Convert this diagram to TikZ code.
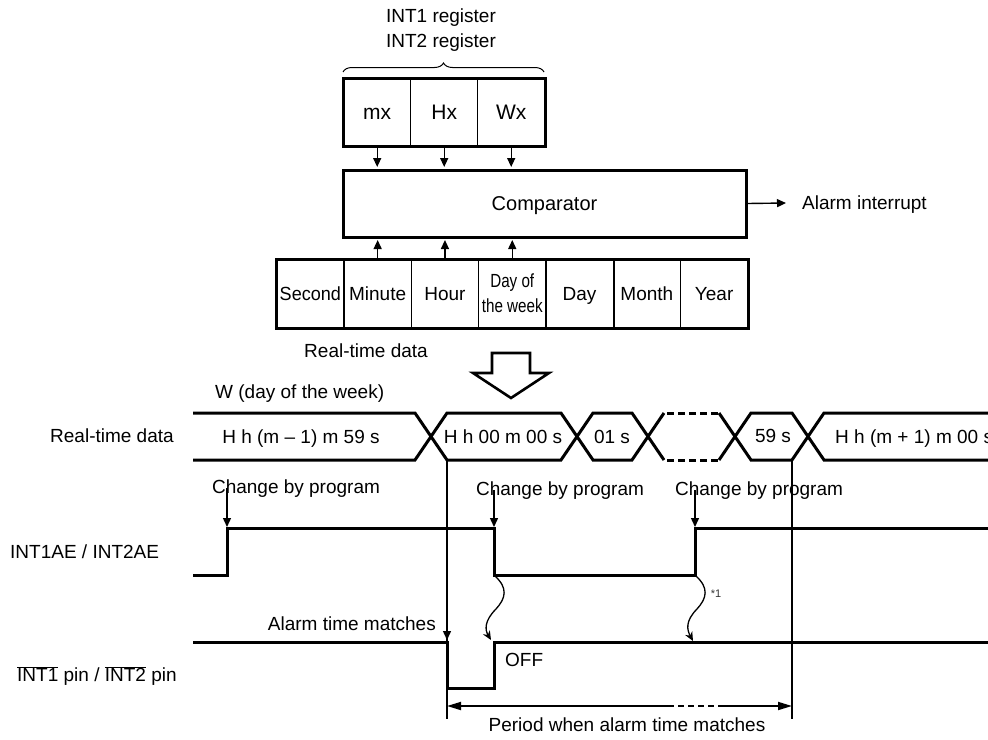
\documentclass[tikz,border=0pt]{standalone}
\usepackage{fontspec}
\setmainfont{Liberation Sans}
\usetikzlibrary{arrows.meta,decorations.pathreplacing,calc}
\begin{document}
\begin{tikzpicture}[x=1pt,y=-1pt,
  font=\fontsize{19}{22}\selectfont,
  thickln/.style={line width=3pt},
  capc/.style={text height=13.7pt, text depth=0pt},
  cell/.style={draw, line width=1.4pt, minimum width=67pt, minimum height=67pt, inner sep=0pt, anchor=north west},
  dcell/.style={cell, minimum width=67.3pt, minimum height=68pt},
  arr/.style={line width=1.4pt, -{Triangle[length=9pt,width=8pt]}},
  lbl/.style={inner sep=0pt, capc},
  sig/.style={line width=3pt},
  wavy/.style={line width=1.3pt, -{Stealth[length=9pt,width=8pt]}},
]
\useasboundingbox (0,0) rectangle (988,739);

% ---------- register block ----------
\node[lbl] (reg1) at (441,16) {INT1 register};
\node[lbl] (reg2) at (441,41) {INT2 register};
\node[cell, font=\fontsize{21}{24}\selectfont, text height=15pt, text depth=0pt] (mx) at (343,78) {mx};
\node[cell, font=\fontsize{21}{24}\selectfont, text height=15pt, text depth=0pt] (hx) at (410,78) {Hx};
\node[cell, font=\fontsize{21}{24}\selectfont, text height=15pt, text depth=0pt] (wx) at (477,78) {Wx};
\draw[thickln] (mx.north west) rectangle (wx.south east);
\draw[line width=1pt, decorate, decoration={brace, amplitude=9pt}] (343,72) -- (544,72);

% ---------- comparator ----------
\node[draw, line width=3pt, minimum width=403pt, minimum height=67pt, inner sep=0pt, font=\fontsize{20}{22}\selectfont, text height=14.4pt, text depth=0pt] (comp) at (544.5,203.5) {Comparator};
\draw[arr, shorten >=1.5pt] (mx.south) -- (mx.south |- comp.north);
\draw[arr, shorten >=1.5pt] (hx.south) -- (hx.south |- comp.north);
\draw[arr, shorten >=1.5pt] (wx.south) -- (wx.south |- comp.north);
\node[lbl, anchor=west] (alarm) at (802,203) {Alarm interrupt};
\draw[arr] (comp.east) -- ([xshift=-16pt]alarm.west);

% ---------- real-time data block ----------
\node[dcell, capc] (sec) at (276,259) {\scalebox{0.95}[1]{Second}};
\node[dcell, capc] (min) at (343.3,259) {Minute};
\node[dcell, capc] (hour) at (410.6,259) {Hour};
\node[dcell, align=center, font=\fontsize{19}{25}\selectfont] (dow) at (477.9,259) {\scalebox{0.8}[1]{Day of}\\\scalebox{0.8}[1]{the week}};
\node[dcell, capc] (day) at (545.2,259) {Day};
\node[dcell, capc] (month) at (612.5,259) {Month};
\node[dcell, capc] (year) at (679.8,259) {Year};
\draw[thickln] (sec.north west) rectangle (year.south east);
\draw[line width=2.6pt] (day.north east) -- (day.south east);
\draw[arr, shorten >=1.5pt] (min.north) -- (min.north |- comp.south);
\draw[arr, shorten >=1.5pt] (hour.north) -- (hour.north |- comp.south);
\draw[arr, shorten >=1.5pt] (dow.north) -- (dow.north |- comp.south);
\node[lbl] (rtd) at (366,351) {Real-time data};

% hollow arrow
\draw[line width=2.6pt, line join=miter] (492,353) -- (530,353) -- (530,373) -- (549,373) -- (511,398) -- (473,373) -- (492,373) -- cycle;

% ---------- timing: bus ----------
\node[lbl, anchor=west] (wlbl) at (215,392) {W (day of the week)};
\node[lbl, anchor=west] (rtdl) at (50,436) {Real-time data};
\draw[sig] (193,413) -- (415,413) -- (447,460) -- (561,460) -- (593,413) -- (632,413) -- (664,460);
\draw[sig] (193,460) -- (415,460) -- (447,413) -- (561,413) -- (593,460) -- (632,460) -- (664,413);
\draw[sig, dash pattern=on 7pt off 4pt] (667,413) -- (719,413);
\draw[sig, dash pattern=on 7pt off 4pt] (667,460) -- (719,460);
\draw[sig] (719,413) -- (751,460) -- (792,460) -- (824,413) -- (995,413);
\draw[sig] (719,460) -- (751,413) -- (792,413) -- (824,460) -- (995,460);
\node[lbl] (b1) at (301,437) {H h (m -- 1) m 59 s};
\node[lbl] (b2) at (503,437) {H h 00 m 00 s};
\node[lbl] (b3) at (612,437) {01 s};
\node[lbl] (b4) at (773,436) {59 s};
\node[lbl, anchor=west] (b5) at (835,437) {H h (m + 1) m 00 s};

% ---------- reference verticals ----------
\coordinate (v1t) at (447,460);
\coordinate (v1b) at (447,719);
\coordinate (v2t) at (792,460);
\coordinate (v2b) at (792,719);
\draw[line width=1.8pt] (v1t) -- (v1b);
\draw[line width=1.8pt] (v2t) -- (v2b);

% ---------- INT1AE / INT2AE ----------
\node[lbl, anchor=west] (aelbl) at (10,552) {INT1AE / INT2AE};
\draw[sig] (193,575) -- (227,575) -- (227,528) -- (494,528) -- (494,575) -- (695,575) -- (695,528) -- (995,528);
\node[lbl] (cp1) at (296,487) {Change by program};
\node[lbl] (cp2) at (560,489) {Change by program};
\node[lbl] (cp3) at (759,489) {Change by program};
\coordinate (e1) at (227,527);
\coordinate (e2) at (494,527);
\coordinate (e3) at (695,527);
\draw[arr] (cp1.south -| e1) ++(0,-6) -- (e1);
\draw[arr] (cp2.south -| e2) ++(0,-6) -- (e2);
\draw[arr] (cp3.south -| e3) ++(0,-6) -- (e3);

% ---------- INT pin ----------
\node[lbl, anchor=west] (pinlbl) at (17,675) {$\overline{\hbox{INT1}}$ pin / $\overline{\hbox{INT2}}$ pin};
\draw[sig] (193,642) -- (447,642) -- (447,688) -- (494,688) -- (494,642) -- (995,642);
\node[lbl, anchor=east] (atm) at (436,624) {Alarm time matches};
\coordinate (atmtip) at (447,640);
\draw[arr] (447,612) -- (atmtip);
\node[lbl, anchor=west] (off) at (505,660) {OFF};

% wavy arrows
\coordinate (w1s) at (495,576);
\coordinate (w1e) at (491,640);
\coordinate (w2s) at (696,576);
\coordinate (w2e) at (693,641);
\draw[wavy] (w1s) .. controls (508,588) and (506,598) .. (496,609) .. controls (484,621) and (485,630) .. (w1e);
\draw[wavy] (w2s) .. controls (709,588) and (707,598) .. (697,609) .. controls (685,621) and (687,630) .. (w2e);
\node[inner sep=0pt, text=black!80] (star) at (716,594) {\fontsize{11}{12}\selectfont *1};

% ---------- period ----------
\coordinate (p1) at (447,706);
\coordinate (pd1) at (668,706);
\coordinate (pd2) at (718,706);
\coordinate (p2) at (792,706);
\draw[line width=1.8pt, {Triangle[length=14pt,width=8pt]}-] (p1) -- (pd1);
\draw[line width=1.8pt, dash pattern=on 6pt off 4pt] (pd1) -- (pd2);
\draw[line width=1.8pt, -{Triangle[length=14pt,width=8pt]}] (pd2) -- (p2);
\node[lbl] (period) at (627,725) {Period when alarm time matches};
\end{tikzpicture}
\end{document}
